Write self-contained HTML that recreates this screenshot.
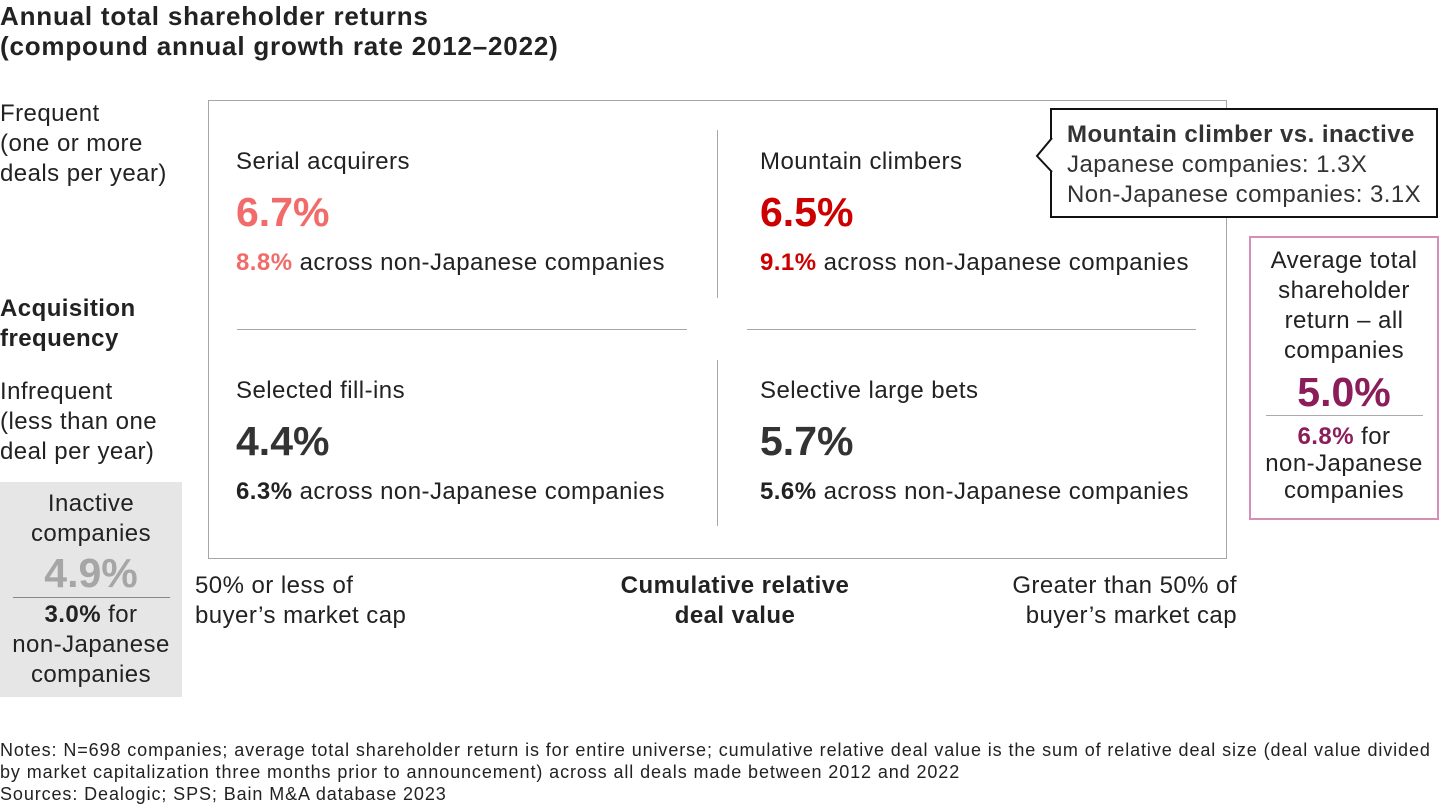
<!DOCTYPE html>
<html><head><meta charset="utf-8"><style>
body{margin:0;width:1440px;height:810px;background:#fff;font-family:"Liberation Sans",Arial,sans-serif;color:#222;position:relative;overflow:hidden}
div{position:absolute}
.t{font-size:24px;letter-spacing:0.45px;line-height:30px;white-space:nowrap}
.b{font-weight:bold}
.big{font-size:41px;font-weight:bold;line-height:44px}
.c{text-align:center}
</style></head><body>
<div class="b" style="left:0;top:1px;font-size:26px;letter-spacing:0.8px;line-height:30px;white-space:nowrap">Annual total shareholder returns<br>(compound annual growth rate 2012–2022)</div>

<div class="t" style="left:0;top:99px">Frequent<br>(one or more<br>deals per year)</div>
<div class="t b" style="left:0;top:294px">Acquisition<br>frequency</div>
<div class="t" style="left:0;top:377px">Infrequent<br>(less than one<br>deal per year)</div>

<div style="left:0;top:482px;width:182px;height:215px;background:#e6e6e6">
 <div class="t c" style="left:0;width:182px;top:7px;line-height:30px">Inactive<br>companies</div>
 <div class="big c" style="left:0;width:182px;top:69px;color:#a6a6a6">4.9%</div>
 <div style="left:13px;width:157px;top:115px;border-top:1px solid #888"></div>
 <div class="t c" style="left:0;width:182px;top:118px;line-height:30px"><b>3.0%</b> for<br>non-Japanese<br>companies</div>
</div>

<div style="left:208px;top:100px;width:1017px;height:457px;border:1px solid #a6a6a6"></div>
<div style="left:717px;top:130px;height:168px;border-left:1px solid #a6a6a6"></div>
<div style="left:717px;top:360px;height:166px;border-left:1px solid #a6a6a6"></div>
<div style="left:237px;top:329px;width:450px;border-top:1px solid #a6a6a6"></div>
<div style="left:747px;top:329px;width:449px;border-top:1px solid #a6a6a6"></div>

<div class="t" style="left:236px;top:147px">Serial acquirers</div>
<div class="big" style="left:236px;top:190px;color:#f26b6b">6.7%</div>
<div class="t" style="left:236px;top:248px"><b style="color:#f26b6b">8.8%</b> across non-Japanese companies</div>

<div class="t" style="left:760px;top:147px">Mountain climbers</div>
<div class="big" style="left:760px;top:190px;color:#cc0000">6.5%</div>
<div class="t" style="left:760px;top:248px"><b style="color:#cc0000">9.1%</b> across non-Japanese companies</div>

<div class="t" style="left:236px;top:376px">Selected fill-ins</div>
<div class="big" style="left:236px;top:419px;color:#333">4.4%</div>
<div class="t" style="left:236px;top:477px"><b>6.3%</b> across non-Japanese companies</div>

<div class="t" style="left:760px;top:376px">Selective large bets</div>
<div class="big" style="left:760px;top:419px;color:#333">5.7%</div>
<div class="t" style="left:760px;top:477px"><b>5.6%</b> across non-Japanese companies</div>

<div style="left:1050px;top:108px;width:384px;height:106px;border:2px solid #111;background:#fff">
 <div class="t" style="left:15px;top:10px;color:#333"><b>Mountain climber vs. inactive</b><br>Japanese companies: 1.3X<br>Non-Japanese companies: 3.1X</div>
</div>
<svg style="position:absolute;left:1034px;top:138px" width="20" height="36"><polyline points="18,0 3,18 18,34" fill="#fff" stroke="#111" stroke-width="2"/></svg>

<div style="left:1249px;top:236px;width:186px;height:280px;border:2px solid #d48fb8">
 <div class="t c" style="left:0;width:186px;top:8px;line-height:30px">Average total<br>shareholder<br>return – all<br>companies</div>
 <div class="big c" style="left:0;width:186px;top:132px;color:#8b1d5b">5.0%</div>
 <div style="left:15px;width:157px;top:177px;border-top:1px solid #aaa"></div>
 <div class="t c" style="left:0;width:186px;top:185px;line-height:27px"><b style="color:#8b1d5b">6.8%</b> for<br>non-Japanese<br>companies</div>
</div>

<div class="t" style="left:195px;top:571px">50% or less of<br>buyer’s market cap</div>
<div class="t b c" style="left:585px;width:300px;top:571px">Cumulative relative<br>deal value</div>
<div class="t" style="left:937px;width:300px;top:571px;text-align:right">Greater than 50% of<br>buyer’s market cap</div>

<div style="left:0;top:739px;font-size:18px;letter-spacing:0.9px;line-height:22px;color:#222;white-space:nowrap">Notes: N=698 companies; average total shareholder return is for entire universe; cumulative relative deal value is the sum of relative deal size (deal value divided<br>by market capitalization three months prior to announcement) across all deals made between 2012 and 2022<br>Sources: Dealogic; SPS; Bain M&amp;A database 2023</div>
</body></html>
